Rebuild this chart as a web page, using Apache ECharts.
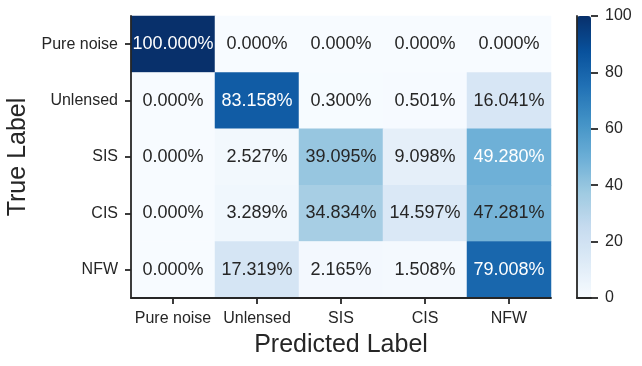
<!DOCTYPE html>
<html>
<head>
<meta charset="utf-8">
<script src="https://cdn.jsdelivr.net/npm/echarts@6/dist/echarts.min.js"></script>
<style>html,body{margin:0;padding:0;background:#fff}#c{width:642px;height:366px}</style>
</head>
<body>
<div id="c"></div>
<script>
const predictedLabels = ['Pure noise', 'Unlensed', 'SIS', 'CIS', 'NFW'];
const trueLabels = ['Pure noise', 'Unlensed', 'SIS', 'CIS', 'NFW'];
const rowPureNoise = [100.000, 0.000, 0.000, 0.000, 0.000];
const rowUnlensed = [0.000, 83.158, 0.300, 0.501, 16.041];
const rowSIS = [0.000, 2.527, 39.095, 9.098, 49.280];
const rowCIS = [0.000, 3.289, 34.834, 14.597, 47.281];
const rowNFW = [0.000, 17.319, 2.165, 1.508, 79.008];
const colorbarTicks = [0, 20, 40, 60, 80, 100];

const rows = [rowPureNoise, rowUnlensed, rowSIS, rowCIS, rowNFW];
const blues = ['#f7fbff','#deebf7','#c6dbef','#9ecae1','#6baed6','#4292c6','#2171b5','#08519c','#08306b'];
const FONT = 'Liberation Sans, Arial, sans-serif';
const DARK = '#262626';

const data = [];
rows.forEach((row, yi) => row.forEach((v, xi) => {
  data.push({ value: [xi, yi, v], label: { color: v > 48 ? '#ffffff' : DARK } });
}));

const lineStyle = { color: DARK, width: 1.8 };
const chart = echarts.init(document.getElementById('c'), null, { renderer: 'canvas' });
chart.setOption({
  backgroundColor: '#ffffff',
  animation: false,
  grid: [
    { left: 131, top: 16, width: 420, height: 282, outerBoundsMode: 'none', containLabel: false },
    { left: 577, top: 16, width: 14, height: 282, outerBoundsMode: 'none', containLabel: false }
  ],
  xAxis: [
    {
      gridIndex: 0, type: 'category', data: predictedLabels, position: 'bottom', z: 10,
      axisLine: { show: true, lineStyle: lineStyle },
      axisTick: { show: true, alignWithLabel: true, length: 6, lineStyle: lineStyle },
      axisLabel: { color: DARK, fontFamily: FONT, fontSize: 16, margin: 13, interval: 0 },
      splitLine: { show: false },
      name: 'Predicted Label', nameLocation: 'middle', nameGap: 35,
      nameTextStyle: { color: DARK, fontFamily: FONT, fontSize: 25 }
    },
    {
      gridIndex: 1, type: 'value', min: 0, max: 1, position: 'bottom', z: 10,
      axisLine: { show: true, lineStyle: lineStyle },
      axisTick: { show: false }, axisLabel: { show: false }, splitLine: { show: false }
    }
  ],
  yAxis: [
    {
      gridIndex: 0, type: 'category', data: trueLabels, inverse: true, position: 'left', z: 10,
      axisLine: { show: true, lineStyle: lineStyle },
      axisTick: { show: true, alignWithLabel: true, length: 6, lineStyle: lineStyle },
      axisLabel: { color: DARK, fontFamily: FONT, fontSize: 16, margin: 13, interval: 0 },
      splitLine: { show: false },
      name: 'True Label', nameLocation: 'middle', nameGap: 99, nameRotate: 90,
      nameTextStyle: { color: DARK, fontFamily: FONT, fontSize: 25 }
    },
    {
      gridIndex: 1, type: 'value', min: 0, max: 100, position: 'left', z: 10,
      axisLine: { show: true, lineStyle: lineStyle },
      axisTick: { show: false }, axisLabel: { show: false }, splitLine: { show: false }
    },
    {
      gridIndex: 1, type: 'value', min: colorbarTicks[0], max: colorbarTicks[colorbarTicks.length - 1],
      interval: colorbarTicks[1] - colorbarTicks[0], position: 'right', z: 10,
      axisLine: { show: false },
      axisTick: { show: true, length: 7, lineStyle: lineStyle },
      axisLabel: { color: DARK, fontFamily: FONT, fontSize: 16, margin: 14 },
      splitLine: { show: false }
    }
  ],
  visualMap: {
    type: 'continuous', min: 0, max: 100, seriesIndex: 0,
    calculable: false, left: 577, top: 16, itemWidth: 14, itemHeight: 282,
    padding: 0, text: null, showLabel: false,
    inRange: { color: blues },
    textStyle: { color: 'transparent' }
  },
  series: [{
    type: 'heatmap', xAxisIndex: 0, yAxisIndex: 0, data: data,
    itemStyle: { borderWidth: 0 },
    label: {
      show: true, fontFamily: FONT, fontSize: 18,
      formatter: p => p.value[2].toFixed(3) + '%'
    },
    emphasis: { disabled: true }
  }]
});
</script>
</body>
</html>
